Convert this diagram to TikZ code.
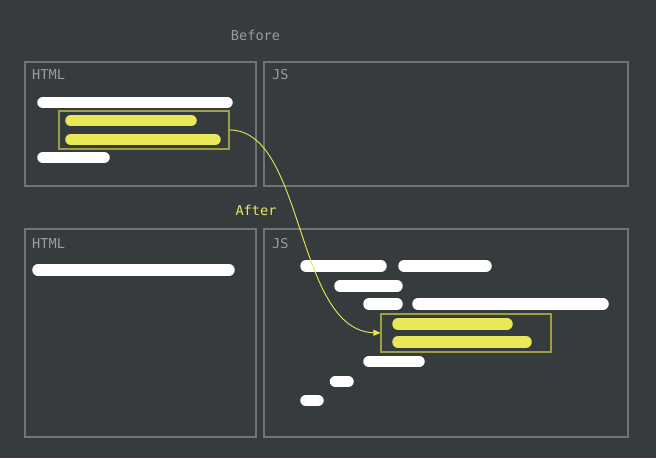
\documentclass[tikz,border=0pt]{standalone}
\usepackage{fontspec}
\setmonofont{DejaVu Sans Mono}
\usetikzlibrary{arrows.meta}

\definecolor{bgcol}{HTML}{363B3E}
\definecolor{framecol}{HTML}{717375}
\definecolor{labelcol}{HTML}{9A9C9D}
\definecolor{hlcol}{HTML}{E8E858}
\definecolor{hlframe}{HTML}{9E9E42}

\tikzset{
  panel/.style={draw=framecol, line width=1.2pt},
  lbl/.style={anchor=base west, inner sep=0pt, text=labelcol, font=\ttfamily\fontsize{13.6}{15}\selectfont},
  bar/.style={line width=11.5pt, line cap=round, white},
  hlbar/.style={bar, hlcol},
  hlbox/.style={draw=hlframe, line width=1.2pt, inner sep=0pt},
}

\begin{document}
\begin{tikzpicture}[x=1pt, y=-1pt]
  \fill[bgcol] (0,0) rectangle (656,458);
  \useasboundingbox (0,0) rectangle (656,458);

  % before
  \node[lbl, anchor=base] (before) at (255.5,40.5) {Before};
  \draw[panel] (25,62) rectangle (256,186);
  \draw[panel] (264,62) rectangle (628,186);
  \node[lbl] (html1) at (32,79) {HTML};
  \node[lbl] (js1) at (272,79) {JS};
  \draw[bar] (43,102.5) -- (227,102.5);
  \node[hlbox, minimum width=170pt, minimum height=38pt] (src) at (144,130) {};
  \draw[hlbar] (71,120.5) -- (191,120.5);
  \draw[hlbar] (71,139.5) -- (215,139.5);
  \draw[bar] (43,157.5) -- (104,157.5);

  % after
  \node[lbl, anchor=base, text=hlcol] (after) at (256,215.5) {After};
  \draw[panel] (25,229) rectangle (256,437);
  \draw[panel] (264,229) rectangle (628,437);
  \node[lbl] (html2) at (32,248) {HTML};
  \node[lbl] (js2) at (272,248) {JS};
  \draw[bar] (38,270) -- (229,270);
  \draw[bar] (306,266) -- (381,266);
  \draw[bar] (404,266) -- (486,266);
  \draw[bar] (340,286) -- (397,286);
  \draw[bar] (369,304) -- (397,304);
  \draw[bar] (418,304) -- (603,304);
  \node[hlbox, minimum width=170pt, minimum height=38pt] (dst) at (466,333) {};
  \draw[hlbar] (398,324) -- (507,324);
  \draw[hlbar] (398,342) -- (526,342);
  \draw[bar] (369,361.5) -- (419,361.5);
  \draw[bar] (335.5,381.5) -- (348,381.5);
  \draw[bar] (306,400.5) -- (318,400.5);

  \draw[hlcol, line width=0.9pt, -{Triangle[length=7pt, width=6pt]}]
    (src.east) .. controls (305,130) and (295,330) .. (dst.west);
\end{tikzpicture}
\end{document}
